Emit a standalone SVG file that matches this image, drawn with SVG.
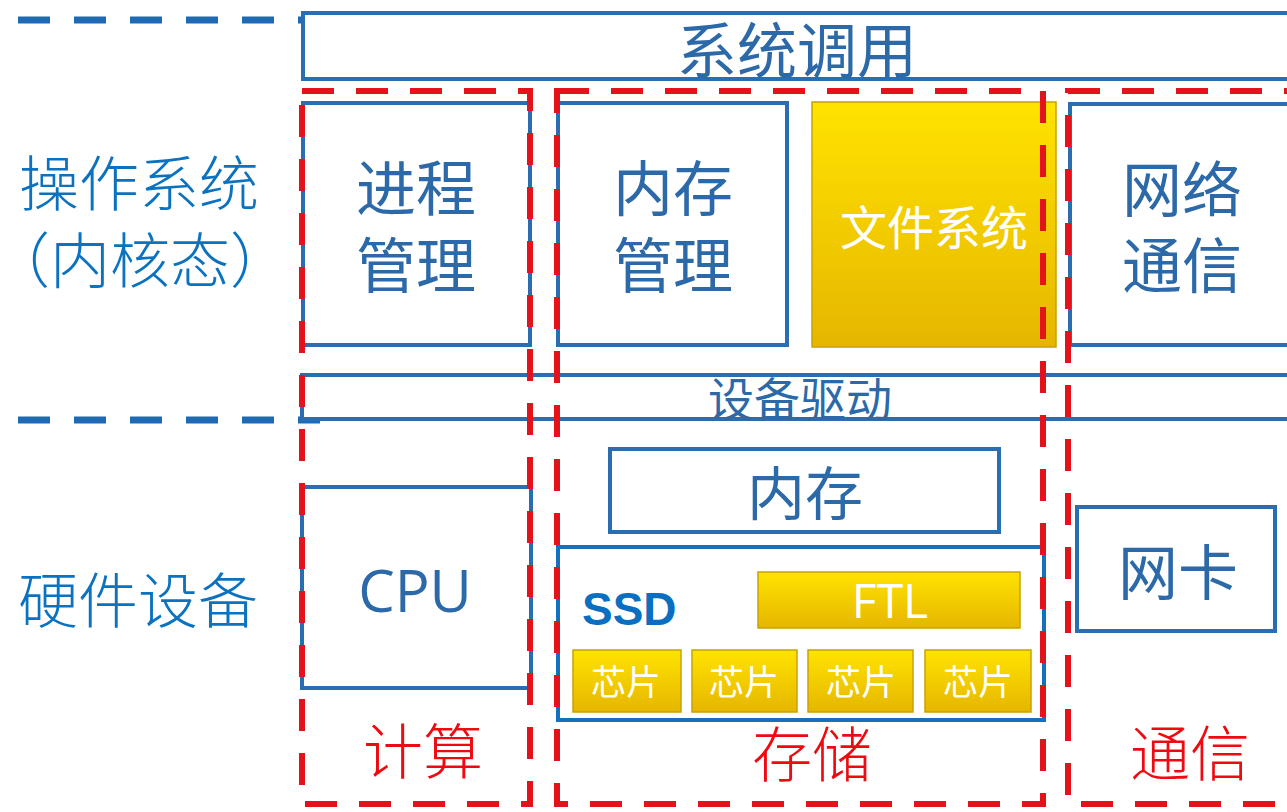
<svg xmlns="http://www.w3.org/2000/svg" width="1287" height="812" viewBox="0 0 1287 812">
<style>
.bx{fill:#ffffff;stroke:#2b6db1;stroke-width:4}
.ln{fill:none;stroke:#2b6db1;stroke-width:4}
.rd{fill:none;stroke:#e3121b;stroke-width:6;stroke-dasharray:32 22}
.bd{fill:none;stroke:#1f6bb3;stroke-width:7;stroke-dasharray:32 24}
.t{font-family:"Noto Sans CJK SC","Noto Sans",sans-serif;fill:#2c69a8;text-anchor:middle;dominant-baseline:central}
.lt{font-family:"Noto Sans CJK SC",sans-serif;fill:#0b72c0;text-anchor:middle;dominant-baseline:central;font-size:60px;font-weight:300}
.rt{font-family:"Noto Sans CJK SC",sans-serif;fill:#ee0a10;text-anchor:middle;dominant-baseline:central;font-size:60px;font-weight:300}
.w{font-family:"Noto Sans CJK SC","Noto Sans",sans-serif;fill:#ffffff;text-anchor:middle;dominant-baseline:central}
.g{fill:url(#gold);stroke:#c9a200;stroke-width:1.5}
</style>
<defs>
<linearGradient id="gold" x1="0" y1="0" x2="0" y2="1">
<stop offset="0" stop-color="#ffe300"/>
<stop offset="1" stop-color="#e6b600"/>
</linearGradient>
</defs>
<rect width="1287" height="812" fill="#ffffff"/>
<g id="guides">
<line class="bd" x1="18" y1="20" x2="320" y2="20"/>
<line class="bd" x1="18" y1="420" x2="320" y2="420"/>
</g>
<g id="side-labels">
<text class="lt" x="139" y="179">操作系统</text>
<text class="lt" x="140" y="256">（内核态）</text>
<text class="lt" x="138" y="596">硬件设备</text>
</g>
<g id="syscall">
<rect class="bx" x="303" y="13" width="1000" height="66"/>
<text class="t" x="797" y="46" font-size="60">系统调用</text>
</g>
<g id="process">
<rect class="bx" x="303" y="103" width="227" height="242"/>
<text class="t" x="416" y="184" font-size="60">进程</text>
<text class="t" x="416" y="261" font-size="60">管理</text>
</g>
<g id="memmgr">
<rect class="bx" x="558" y="103" width="229" height="242"/>
<text class="t" x="673" y="184" font-size="60">内存</text>
<text class="t" x="673" y="261" font-size="60">管理</text>
</g>
<g id="filesystem">
<rect class="g" x="812" y="102" width="244" height="245"/>
<text class="w" x="934" y="224" font-size="47">文件系统</text>
</g>
<g id="network">
<rect class="bx" x="1070" y="104" width="240" height="241"/>
<text class="t" x="1182" y="185" font-size="60">网络</text>
<text class="t" x="1182" y="261" font-size="60">通信</text>
</g>
<g id="driver">
<rect class="bx" x="302" y="375" width="1010" height="44"/>
<text class="t" x="800" y="396" font-size="46">设备驱动</text>
</g>
<g id="cpu">
<rect class="bx" x="302" y="487" width="229" height="201"/>
<text x="415" y="612" font-family="'Open Sans','Noto Sans',sans-serif" font-size="58" fill="#2c69a8" text-anchor="middle">CPU</text>
</g>
<g id="memory">
<rect class="bx" x="610" y="449" width="389" height="83"/>
<text class="t" x="805" y="490" font-size="58">内存</text>
</g>
<g id="ssd">
<rect x="558" y="547" width="486" height="173" fill="#ffffff" stroke="#1570c0" stroke-width="4"/>
<text x="582" y="625" font-family="'Liberation Sans',Arial,sans-serif" font-weight="bold" font-size="46" fill="#0a6fc0">SSD</text>
<rect class="g" x="758" y="572" width="262" height="56"/>
<text x="890" y="618" font-family="'Open Sans','Noto Sans',sans-serif" font-size="48" fill="#ffffff" text-anchor="middle">FTL</text>
<rect class="g" x="573" y="650" width="108" height="62"/>
<rect class="g" x="692" y="650" width="105" height="62"/>
<rect class="g" x="808" y="650" width="105" height="62"/>
<rect class="g" x="925" y="650" width="106" height="62"/>
<text class="w" x="626" y="679" font-size="35">芯片</text>
<text class="w" x="744" y="679" font-size="35">芯片</text>
<text class="w" x="861" y="679" font-size="35">芯片</text>
<text class="w" x="978" y="679" font-size="35">芯片</text>
</g>
<g id="nic">
<rect class="bx" x="1077" y="507" width="198" height="124"/>
<text class="t" x="1178" y="568" font-size="60">网卡</text>
</g>
<g id="groups">
<rect class="rd" x="302" y="91" width="228" height="713"/>
<rect class="rd" x="557" y="91" width="486" height="713"/>
<rect class="rd" x="1068" y="91" width="260" height="713"/>
<text class="rt" x="423" y="747">计算</text>
<text class="rt" x="812" y="750">存储</text>
<text class="rt" x="1190" y="749">通信</text>
</g>
</svg>
